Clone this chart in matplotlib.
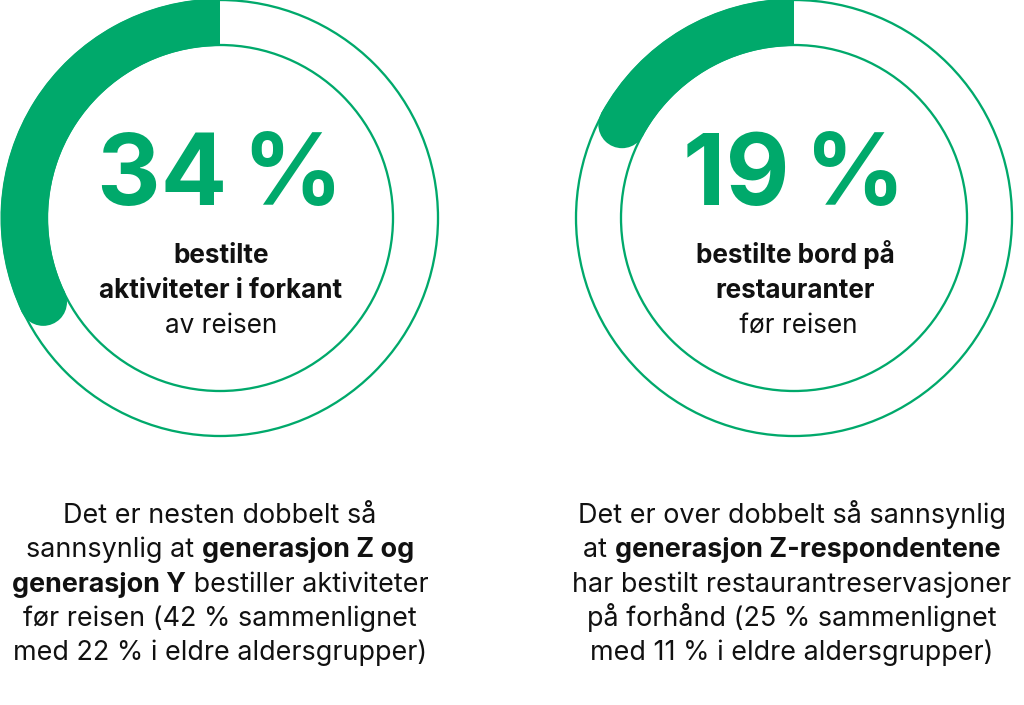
import matplotlib
matplotlib.use("Agg")
import matplotlib.pyplot as plt
from matplotlib.patches import Circle, Wedge
import math

# Share of travellers, one gauge per statistic
values = [34, 19]
centers_x = [220, 794]
big_labels = ["34\u2009%", "19\u2009%"]

# Caption inside each ring: (text, bold) per line
inner_lines = [
    [[("bestilte", True)], [("aktiviteter i forkant", True)], [("av reisen", False)]],
    [[("bestilte bord på", True)], [("restauranter", True)], [(" før reisen", False)]],
]

# Paragraph under each ring, bold fragments marked True
para_lines = [
    [
        [("Det er nesten dobbelt så", False)],
        [("sannsynlig at ", False), ("generasjon Z og", True)],
        [("generasjon Y", True), (" bestiller aktiviteter", False)],
        [("før reisen (42 % sammenlignet", False)],
        [("med 22 % i eldre aldersgrupper)", False)],
    ],
    [
        [("Det er over dobbelt så sannsynlig", False)],
        [("at ", False), ("generasjon Z-respondentene", True)],
        [("har bestilt restaurantreservasjoner", False)],
        [("på forhånd (25 % sammenlignet", False)],
        [("med 11 % i eldre aldersgrupper)", False)],
    ],
]

GREEN = "#00a96b"
FONT = ["Inter", "DejaVu Sans"]
W, H = 1024, 705

fig = plt.figure(figsize=(W / 100, H / 100), dpi=100)
ax = fig.add_axes([0, 0, 1, 1])
ax.set_xlim(0, W)
ax.set_ylim(H, 0)
ax.axis("off")

cy = 218
r_out = 218
r_in = 173
ring_lw = 2.3 * 72 / 100
band_out, band_in = 219.5, 172
band_w = band_out - band_in
r_mid = (band_out + band_in) / 2

renderer = fig.canvas.get_renderer()


def advance(s, bold, size):
    """Horizontal advance of s in pixels, spaces included."""
    kw = dict(fontsize=size, family=FONT, fontweight="bold" if bold else "normal")
    t1 = ax.text(0, 0, "x" + s + "x", **kw)
    t2 = ax.text(0, 0, "xx", **kw)
    w = (t1.get_window_extent(renderer).width
         - t2.get_window_extent(renderer).width)
    t1.remove()
    t2.remove()
    return w


def rich_line(xc, y, segs, size, color="#111111"):
    widths = [advance(s, b, size) for s, b in segs]
    x = xc - sum(widths) / 2
    for (s, b), w in zip(segs, widths):
        ax.text(x, y, s, fontsize=size, family=FONT,
                fontweight="bold" if b else "normal",
                color=color, ha="left", va="baseline")
        x += w


for i, (v, cx) in enumerate(zip(values, centers_x)):
    ax.add_patch(Circle((cx, cy), r_out, fill=False, ec=GREEN, lw=ring_lw))
    ax.add_patch(Circle((cx, cy), r_in, fill=False, ec=GREEN, lw=ring_lw))

    # progress band: starts at 12 o'clock, runs counter-clockwise on screen
    sweep = v / 100 * 360
    cap = math.degrees((band_w / 2) / r_mid)
    body = sweep - cap
    ax.add_patch(Wedge((cx, cy), band_out, 270 - body, 270, width=band_w,
                       fc=GREEN, ec="none"))
    a = math.radians(270 - body)
    ax.add_patch(Circle((cx + r_mid * math.cos(a), cy + r_mid * math.sin(a)),
                        band_w / 2, fc=GREEN, ec="none"))

    ax.text(cx, 205, big_labels[i], fontsize=71, family=FONT,
            fontweight="bold", color=GREEN, ha="center", va="baseline")

    for k, segs in enumerate(inner_lines[i]):
        rich_line(cx + 1, 263 + k * 35, segs, 18.8)

    for k, segs in enumerate(para_lines[i]):
        rich_line(cx - (2 if i else 0), 523 + k * 34.3, segs, 19.4)

fig.savefig("out.png", dpi=100, facecolor="white")
